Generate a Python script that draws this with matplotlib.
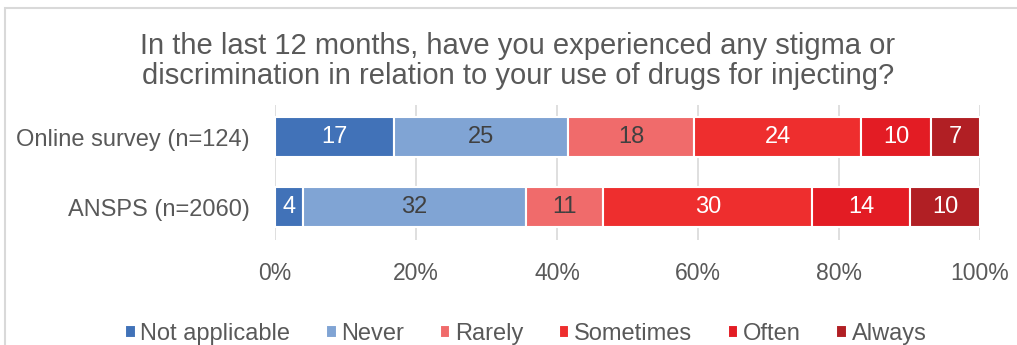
import matplotlib
matplotlib.use('Agg')
from matplotlib import pyplot as plt
from matplotlib.patches import Rectangle
import numpy as np

plt.rcParams['font.family'] = ['Liberation Sans', 'DejaVu Sans']

groups = ['ANSPS (n=2060)', 'Online survey (n=124)']
categories = ['Not applicable', 'Never', 'Rarely', 'Sometimes', 'Often', 'Always']
values = {
    'Online survey (n=124)': [17, 25, 18, 24, 10, 7],
    'ANSPS (n=2060)': [4, 32, 11, 30, 14, 10],
}
colors = ['#4172B8', '#80A4D4', '#F06B6B', '#EE2E2E', '#E31C24', '#B11F24']
label_colors = ['white', '#404040', '#404040', 'white', 'white', 'white']
title = ('In the last 12 months, have you experienced any stigma or\n'
         'discrimination in relation to your use of drugs for injecting?')

fig = plt.figure(figsize=(10.17, 3.45), dpi=100)
ax = fig.add_axes([0.2704, 0.3043, 0.6932, 0.3914])

# chart-area border (cropped at right/bottom in the original)
fig.patches.append(Rectangle((5 / 1017, -0.1), 1.2, 1 - 8 / 345 + 0.1, transform=fig.transFigure,
                             fill=False, edgecolor='#D9D9D9', linewidth=1.5))

y = np.arange(len(groups))
data = np.array([values[g] for g in groups], dtype=float)
shares = data / data.sum(axis=1, keepdims=True)
left = np.zeros(len(groups))
for i, cat in enumerate(categories):
    bars = ax.barh(y, shares[:, i], left=left, height=0.57, color=colors[i], edgecolor='white',
                   linewidth=1.5, label=cat, zorder=3)
    for b, v in zip(bars, data[:, i]):
        ax.text(b.get_x() + b.get_width() / 2, b.get_y() + b.get_height() / 2, f'{v:.0f}',
                ha='center', va='center', color=label_colors[i], fontsize=17, zorder=4)
    left += shares[:, i]

ax.set_xlim(0, 1)
ax.set_ylim(-0.47, 1.46)
ax.set_xticks(np.linspace(0, 1, 6))
ax.set_xticklabels([f'{int(t * 100)}%' for t in np.linspace(0, 1, 6)])
ax.set_yticks(y)
ax.set_yticklabels(groups)
ax.tick_params(axis='both', length=0, labelcolor='#595959')
ax.tick_params(axis='x', pad=16, labelsize=16.5)
ax.tick_params(axis='y', pad=18, labelsize=17)
ax.grid(axis='x', color='#D9D9D9', linewidth=1.2, zorder=0)
for s in ax.spines.values():
    s.set_visible(False)

fig.text(0.509, 1 - 61 / 345, title, ha='center', va='center', fontsize=21, color='#595959',
         linespacing=1.1)

fig.legend(loc='center', bbox_to_anchor=(0.517, 1 - 334 / 345), ncol=6, frameon=False,
           fontsize=17, labelcolor='#595959', handlelength=0.45, handleheight=0.45,
           handletextpad=0.2, columnspacing=1.5, borderaxespad=0)

fig.savefig('out.png', dpi=100)
